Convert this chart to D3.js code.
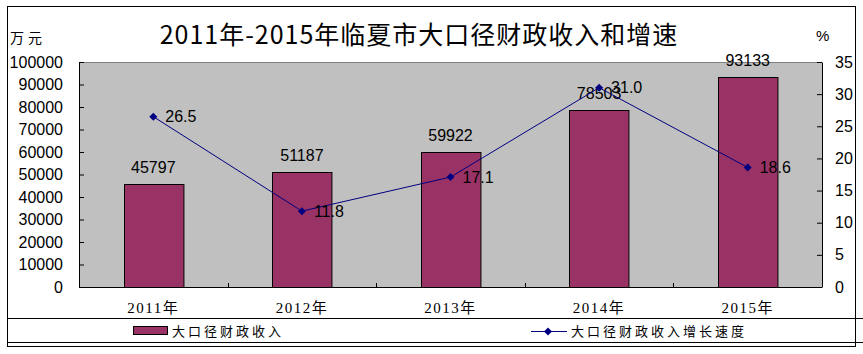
<!DOCTYPE html>
<html>
<head>
<meta charset="utf-8">
<script src="https://cdn.jsdelivr.net/npm/d3@7"></script>
<style>
  body { margin: 0; background: #fff; }
  text { font-family: "Liberation Sans", Arial, "Noto Sans CJK SC", sans-serif; }
  .cjk { font-family: "Noto Sans CJK SC", sans-serif; }
  .serif { font-family: "Liberation Serif", "DejaVu Serif", "Noto Sans CJK SC", serif; }
</style>
</head>
<body>
<div class="chart"></div>
<script>
let years = ["2011年", "2012年", "2013年", "2014年", "2015年"];
let revenue = [45797, 51187, 59922, 78503, 93133];
let growth = [26.5, 11.8, 17.1, 31.0, 18.6];
let leftTicks = [0, 10000, 20000, 30000, 40000, 50000, 60000, 70000, 80000, 90000, 100000];
let rightTicks = [0, 5, 10, 15, 20, 25, 30, 35];

let svgWidth = 863;
let svgHeight = 354;

let margin = { top: 62, right: 41, bottom: 67, left: 79 };
let chartWidth = svgWidth - margin.left - margin.right;
let chartHeight = svgHeight - margin.top - margin.bottom;

let svg = d3.select(".chart")
  .append("svg")
  .attr("width", svgWidth)
  .attr("height", svgHeight);

// outer frame and legend separators
svg.append("rect")
  .attr("x", 7.5).attr("y", 6.5)
  .attr("width", 848).attr("height", 340)
  .attr("fill", "none").attr("stroke", "#000");
[318.5, 342.5].forEach(function(yy) {
  svg.append("line")
    .attr("x1", 7).attr("x2", 863)
    .attr("y1", yy).attr("y2", yy)
    .attr("stroke", "#000");
});

let chart = svg.append("g")
  .attr("transform", `translate(${margin.left}, ${margin.top})`);

let x = d3.scaleBand().domain(years).range([0, chartWidth]).padding(0);
let yL = d3.scaleLinear().domain([0, 100000]).range([chartHeight, 0]);
let yR = d3.scaleLinear().domain([0, 35]).range([chartHeight, 0]);

// plot area
chart.append("rect")
  .attr("width", chartWidth).attr("height", chartHeight)
  .attr("fill", "#c0c0c0");
chart.append("line")
  .attr("x1", 0).attr("x2", chartWidth)
  .attr("y1", 0.5).attr("y2", 0.5)
  .attr("stroke", "#808080");

// bars
let barW = x.bandwidth() * 0.4;
chart.selectAll(".bar")
  .data(revenue)
  .enter().append("rect")
    .attr("class", "bar")
    .attr("x", function(d, i) { return Math.round(x(years[i]) + x.bandwidth() / 2 - barW / 2) + 0.5; })
    .attr("y", function(d) { return Math.round(yL(d)) + 0.5; })
    .attr("width", barW)
    .attr("height", function(d) { return chartHeight - Math.round(yL(d)); })
    .attr("fill", "#993366")
    .attr("stroke", "#000");

chart.selectAll(".barLabel")
  .data(revenue)
  .enter().append("text")
    .attr("x", function(d, i) { return x(years[i]) + x.bandwidth() / 2; })
    .attr("y", function(d) { return yL(d) - 11; })
    .attr("text-anchor", "middle")
    .style("font-size", "16px")
    .text(function(d) { return d; });

// axes
let leftAxis = d3.axisLeft(yL).tickValues(leftTicks).tickSizeInner(-5).tickSizeOuter(0).tickPadding(16).tickFormat(d3.format("d"));
let rightAxis = d3.axisRight(yR).tickValues(rightTicks).tickSizeInner(-5).tickSizeOuter(0).tickPadding(13);

let gl = chart.append("g").call(leftAxis);
let gr = chart.append("g").attr("transform", `translate(${chartWidth}, 0)`).call(rightAxis);
[gl, gr].forEach(function(g) {
  g.selectAll("path, line").attr("stroke", "#000");
  g.selectAll("text").style("font-size", "16px").attr("fill", "#000")
    .style("font-family", "'Liberation Sans', Arial, sans-serif");
});

// x axis
chart.append("line")
  .attr("x1", 0).attr("x2", chartWidth)
  .attr("y1", chartHeight + 0.5).attr("y2", chartHeight + 0.5)
  .attr("stroke", "#000");
chart.selectAll(".xtick")
  .data(years.slice(1))
  .enter().append("line")
    .attr("x1", function(d) { return Math.round(x(d)) + 0.5; })
    .attr("x2", function(d) { return Math.round(x(d)) + 0.5; })
    .attr("y1", chartHeight - 4).attr("y2", chartHeight)
    .attr("stroke", "#000");
chart.selectAll(".xlabel")
  .data(years)
  .enter().append("text")
    .attr("class", "serif")
    .attr("x", function(d) { return x(d) + x.bandwidth() / 2; })
    .attr("y", chartHeight + 26)
    .attr("text-anchor", "middle")
    .style("font-size", "15px")
    .style("letter-spacing", "1.5px")
    .text(function(d) { return d; });

// growth line
let line = d3.line()
  .x(function(d, i) { return x(years[i]) + x.bandwidth() / 2; })
  .y(function(d) { return yR(d); });

chart.append("path")
  .datum(growth)
  .attr("d", line)
  .attr("fill", "none")
  .attr("stroke", "#000080")
  .attr("stroke-width", 1);

let diamond = "M0,-4L4,0L0,4L-4,0Z";
chart.selectAll(".dot")
  .data(growth)
  .enter().append("path")
    .attr("d", diamond)
    .attr("transform", function(d, i) { return `translate(${x(years[i]) + x.bandwidth() / 2}, ${yR(d)})`; })
    .attr("fill", "#000080");

chart.selectAll(".lineLabel")
  .data(growth)
  .enter().append("text")
    .attr("x", function(d, i) { return x(years[i]) + x.bandwidth() / 2 + 12; })
    .attr("y", function(d) { return yR(d); })
    .attr("dy", "0.35em")
    .style("font-size", "16px")
    .text(function(d) { return d3.format(".1f")(d); });

// title and units
svg.append("text")
  .attr("class", "cjk")
  .attr("x", 419).attr("y", 44)
  .attr("text-anchor", "middle")
  .style("font-size", "25px")
  .style("font-weight", "400")
  .style("letter-spacing", "1px")
  .text("2011年-2015年临夏市大口径财政收入和增速");

svg.append("text")
  .attr("class", "cjk")
  .attr("x", 10).attr("y", 43)
  .style("font-size", "14px")
  .style("letter-spacing", "4px")
  .text("万元");

svg.append("text")
  .attr("x", 816).attr("y", 41)
  .style("font-size", "15px")
  .text("%");

// legend
let legend = svg.append("g");
legend.append("rect")
  .attr("x", 133.5).attr("y", 326.5)
  .attr("width", 34).attr("height", 8)
  .attr("fill", "#993366").attr("stroke", "#000");
legend.append("text")
  .attr("class", "cjk")
  .attr("x", 172).attr("y", 336)
  .style("font-size", "13px")
  .style("letter-spacing", "3px")
  .text("大口径财政收入");

legend.append("line")
  .attr("x1", 531).attr("x2", 567)
  .attr("y1", 331.5).attr("y2", 331.5)
  .attr("stroke", "#000080");
legend.append("path")
  .attr("d", diamond)
  .attr("transform", "translate(548, 331.5)")
  .attr("fill", "#000080");
legend.append("text")
  .attr("class", "cjk")
  .attr("x", 571).attr("y", 336)
  .style("font-size", "13px")
  .style("letter-spacing", "3px")
  .text("大口径财政收入增长速度");
</script>
</body>
</html>
